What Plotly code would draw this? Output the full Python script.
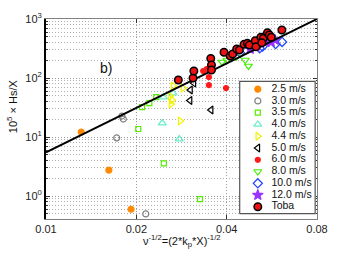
import numpy as np
import plotly.graph_objects as go

# ---- data ----
x25 = [0.0131, 0.0162, 0.0192]
y25 = [12.2, 2.76, 0.60]
x30 = [0.0179, 0.0181, 0.0172, 0.0215]
y30 = [22.7, 20.2, 9.7, 0.50]
x35 = [0.0209, 0.0221, 0.0233, 0.0203, 0.0247, 0.0326]
y35 = [32.2, 37.7, 47.6, 13.7, 3.6, 0.89]
x40 = [0.0246, 0.0265, 0.0244, 0.0278]
y40 = [47.6, 55.7, 17.3, 9.25]
x44 = [0.0265, 0.0286, 0.0259, 0.0263, 0.0261, 0.0280]
y44 = [73.2, 67.7, 49.5, 42.4, 36.3, 18.7]
x50 = [0.0311, 0.0303, 0.0302, 0.0355]
y50 = [82.2, 62.6, 41.6, 28.7]
x60 = [0.0334, 0.0343, 0.0349, 0.0349, 0.0398]
y60 = [131.5, 142, 104, 76, 67.7]
x80 = [0.0386, 0.0401, 0.0430, 0.0461, 0.0473]
y80 = [187, 202, 227, 202, 160]
x100 = [0.0443, 0.0515, 0.0527, 0.0582, 0.0612]
y100 = [268, 319, 340, 377, 408]
x120 = [0.0479, 0.0501, 0.0541, 0.0563, 0.0580]
y120 = [310, 335, 408, 408, 441]
x_toba = [0.0276, 0.0309, 0.0311, 0.0354, 0.0356, 0.0356, 0.0392, 0.0411, 0.0419,
          0.0432, 0.0441, 0.0457, 0.0469, 0.0476, 0.0498, 0.0501, 0.0520, 0.0530,
          0.0524, 0.0547, 0.0555, 0.0563, 0.0611]
y_toba = [92.5, 100, 131.5, 214, 166, 137, 273, 236, 255,
          310, 298, 372, 387, 362, 429, 340, 490, 471,
          396, 586, 536, 490, 651]
line_x = [0.01, 0.08]
line_y = [5.52, 1000]

labels = ["2.5 m/s", "3.0 m/s", "3.5 m/s", "4.0 m/s", "4.4 m/s", "5.0 m/s",
          "6.0 m/s", "8.0 m/s", "10.0 m/s", "12.0 m/s", "Toba"]
x_ticks = [0.01, 0.02, 0.04, 0.08]
x_ticktext = ["0.01", "0.02", "0.04", "0.08"]
y_ticks = [1, 10, 100, 1000]
y_ticktext = ["10<sup>0</sup>", "10<sup>1</sup>", "10<sup>2</sup>", "10<sup>3</sup>"]

series = [
    (x25, y25, "circle", "#ff8a00", 6),
    (x30, y30, "circle-open", "#808080", 6),
    (x35, y35, "square-open", "#55ee00", 5),
    (x40, y40, "triangle-up-open", "#66eecc", 7),
    (x44, y44, "triangle-right-open", "#f2f200", 7),
    (x50, y50, "triangle-left-open", "#000000", 7),
    (x60, y60, "circle", "#ff1a1a", 5),
    (x80, y80, "triangle-down-open", "#44ee00", 7),
    (x100, y100, "diamond-open", "#2244ff", 7),
    (x120, y120, "star", "#9933ff", 8),
]
toba_style = ("circle", "#ee1111", 7.5)

FONT = "Liberation Sans, Arial, sans-serif"
fig = go.Figure()

for xs, ys, sym, col, sz in series:
    fig.add_trace(go.Scatter(x=xs, y=ys, mode="markers", showlegend=False,
                             marker=dict(symbol=sym, color=col, size=sz,
                                         line=dict(color=col, width=1.2))))

fig.add_trace(go.Scatter(x=line_x, y=line_y, mode="lines", showlegend=False,
                         line=dict(color="black", width=2)))

fig.add_trace(go.Scatter(x=x_toba, y=y_toba, mode="markers", showlegend=False,
                         marker=dict(symbol="circle", color=toba_style[1], size=toba_style[2],
                                     line=dict(color="black", width=1.5))))

# empty trace to hold the right-hand mirrored y axis
fig.add_trace(go.Scatter(x=[], y=[], yaxis="y3", showlegend=False, hoverinfo="skip"))

# ---- legend drawn in its own small subplot ----
n = len(labels)
ly = np.linspace(0.941, 0.052, n)
fig.add_trace(go.Scatter(x=[0.0, 1.0, 1.0, 0.0, 0.0], y=[0.0, 0.0, 1.0, 1.0, 0.0],
                         xaxis="x2", yaxis="y2", mode="lines", fill="toself",
                         fillcolor="white", line=dict(color="#555555", width=1.2),
                         showlegend=False, hoverinfo="skip"))
styles = [(s[2], s[3], s[4]) for s in series] + [toba_style]
for i, (sym, col, sz) in enumerate(styles):
    lw = 1.5 if i == n - 1 else 1.2
    lc = "black" if i == n - 1 else col
    fig.add_trace(go.Scatter(x=[0.24], y=[ly[i]], xaxis="x2", yaxis="y2", mode="markers",
                             marker=dict(symbol=sym, color=col, size=sz, line=dict(color=lc, width=lw)),
                             showlegend=False, hoverinfo="skip"))
fig.add_trace(go.Scatter(x=[0.42] * n, y=list(ly), text=labels, xaxis="x2", yaxis="y2",
                         mode="text", textposition="middle right",
                         textfont=dict(family=FONT, size=10.5, color="#111111"),
                         showlegend=False, hoverinfo="skip"))

y_minor = [m * 10.0 ** e for e in range(-1, 3) for m in range(2, 10)]

grid_dash = "1px,2px"
fig.update_layout(
    width=350, height=259,
    margin=dict(l=46, r=33, t=19, b=40),
    paper_bgcolor="white", plot_bgcolor="white",
    font=dict(family=FONT, size=11, color="#222222"),
    xaxis=dict(type="log", range=[np.log10(0.01), np.log10(0.08)],
               tickvals=x_ticks, ticktext=x_ticktext,
               showline=True, linecolor="#808080", linewidth=1.2, mirror="ticks",
               ticks="inside", ticklen=4, tickcolor="#333333",
               showgrid=True, gridcolor="#9a9a9a", griddash=grid_dash, gridwidth=1,
               zeroline=False, tickfont=dict(size=11)),
    yaxis=dict(type="log", range=[np.log10(0.41), 3],
               tickvals=y_ticks, ticktext=y_ticktext,
               showline=True, linecolor="black", linewidth=2,
               ticks="inside", ticklen=4, tickcolor="#333333",
               showgrid=True, gridcolor="#9a9a9a", griddash=grid_dash, gridwidth=1,
               minor=dict(tickvals=y_minor, ticks="inside", ticklen=2, tickcolor="#333333",
                          showgrid=True, gridcolor="#b0b0b0", griddash=grid_dash, gridwidth=1),
               zeroline=False, tickfont=dict(size=11)),
    yaxis3=dict(type="log", range=[np.log10(0.41), 3], overlaying="y", side="right", anchor="x",
                tickvals=y_ticks, showticklabels=False,
                showline=True, linecolor="#808080", linewidth=1.2,
                ticks="inside", ticklen=4, tickcolor="#333333",
                minor=dict(tickvals=y_minor, ticks="inside", ticklen=2, tickcolor="#333333"),
                showgrid=False, zeroline=False),
    xaxis2=dict(domain=[0.712, 0.996], range=[-0.01, 1.01], visible=False, anchor="y2"),
    yaxis2=dict(domain=[0.02, 0.695], range=[-0.01, 1.01], visible=False, anchor="x2"),
    annotations=[
        dict(text="b)", xref="paper", yref="paper", x=0.221, y=0.755, showarrow=False,
             font=dict(size=14, color="#111111"), xanchor="center", yanchor="middle"),
        dict(text="10<sup>5</sup> × Hs/X", xref="paper", yref="paper", x=-0.125, y=0.565,
             textangle=-90, showarrow=False, font=dict(size=11, color="#111111"),
             xanchor="center", yanchor="middle"),
        dict(text="ν<sup>-1/2</sup>=(2*k<sub>p</sub>*X)<sup>-1/2</sup>", xref="paper", yref="paper",
             x=0.502, y=-0.11, showarrow=False, font=dict(size=11, color="#111111"),
             xanchor="center", yanchor="middle"),
    ],
)

fig.write_html("out.html", config={"displayModeBar": False},
               post_script="document.body.style.margin='0';document.body.style.padding='0';"
                           "document.body.style.overflow='hidden';")
